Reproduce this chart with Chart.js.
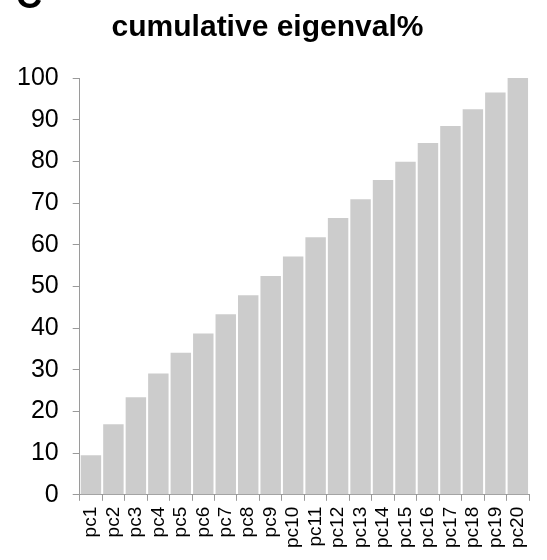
<!DOCTYPE html>
<html>
<head>
<meta charset="utf-8">
<script src="https://cdn.jsdelivr.net/npm/chart.js@4/dist/chart.umd.min.js"></script>
<style>
html,body{margin:0;padding:0;background:#fff;}
#wrap{width:547px;height:560px;position:relative;}
</style>
</head>
<body>
<div id="wrap"><canvas id="c" width="547" height="560"></canvas></div>
<script>
const categories = ["pc1","pc2","pc3","pc4","pc5","pc6","pc7","pc8","pc9","pc10","pc11","pc12","pc13","pc14","pc15","pc16","pc17","pc18","pc19","pc20"];
const cumulativeEigenval = [9.5,16.9,23.4,29.1,34.1,38.7,43.3,47.9,52.5,57.2,61.8,66.4,70.9,75.5,79.9,84.4,88.5,92.5,96.5,100];
const yTicks = [0,10,20,30,40,50,60,70,80,90,100];
const titleText = "cumulative eigenval%";
const panelLabel = "C";

const FONT = "'Liberation Sans', Arial, Helvetica, sans-serif";
const AXIS = "#9a9a9a";

const panelPlugin = {
  id: 'panelLabel',
  afterDraw(chart) {
    const ctx = chart.ctx;
    ctx.save();
    ctx.fillStyle = '#000';
    ctx.font = "bold 36px " + FONT;
    ctx.textBaseline = 'alphabetic';
    ctx.textAlign = 'left';
    ctx.fillText(panelLabel, 16, 8);
    ctx.restore();
  }
};

new Chart(document.getElementById('c'), {
  type: 'bar',
  data: {
    labels: categories,
    datasets: [{
      data: cumulativeEigenval,
      backgroundColor: '#cccccc',
      borderWidth: 0,
      barPercentage: 0.91,
      categoryPercentage: 1.0
    }]
  },
  options: {
    responsive: false,
    animation: false,
    devicePixelRatio: 1,
    layout: { padding: { left: 3, right: 15, top: 0, bottom: 6 } },
    plugins: {
      legend: { display: false },
      tooltip: { enabled: false },
      title: {
        display: true,
        text: titleText,
        color: '#000',
        font: { family: FONT, size: 30, weight: 'bold' },
        padding: { top: 10, bottom: 32 }
      }
    },
    scales: {
      x: {
        offset: true,
        grid: { display: true, drawOnChartArea: false, drawTicks: true, tickLength: 6, color: AXIS, offset: true },
        border: { display: true, color: AXIS, width: 1 },
        ticks: {
          color: '#000',
          font: { family: FONT, size: 19 },
          maxRotation: 90, minRotation: 90,
          padding: 6,
          autoSkip: false
        }
      },
      y: {
        min: 0, max: 100,
        afterBuildTicks(scale) { scale.ticks = yTicks.map(v => ({ value: v })); },
        grid: { display: true, drawOnChartArea: false, drawTicks: true, tickLength: 7, color: AXIS },
        border: { display: true, color: AXIS, width: 1 },
        ticks: {
          color: '#000',
          font: { family: FONT, size: 25 },
          padding: 14
        }
      }
    }
  },
  plugins: [panelPlugin]
});
</script>
</body>
</html>
